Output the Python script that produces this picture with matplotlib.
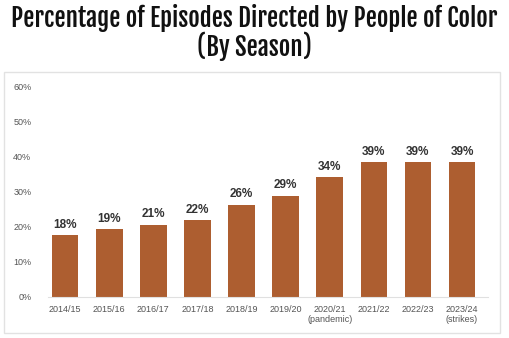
import matplotlib
matplotlib.use("Agg")
import matplotlib.pyplot as plt
from matplotlib.patches import Rectangle

seasons = ["2014/15", "2015/16", "2016/17", "2017/18", "2018/19",
           "2019/20", "2020/21\n(pandemic)", "2021/22", "2022/23", "2023/24\n(strikes)"]
values = [17.6, 19.2, 20.6, 21.9, 26.3, 28.9, 34.3, 38.6, 38.6, 38.6]
labels = ["18%", "19%", "21%", "22%", "26%", "29%", "34%", "39%", "39%", "39%"]
yticks = [0, 10, 20, 30, 40, 50, 60]

title_font = ["Fjalla One", "Barlow Condensed", "DejaVu Sans"]
body_font = ["Liberation Sans", "DejaVu Sans"]

fig = plt.figure(figsize=(5.09, 3.38), dpi=100)
fig.patch.set_facecolor("white")

# light frame around the chart area
fig.patches.append(Rectangle((4 / 509, 1 - 333 / 338), 496 / 509, 261 / 338,
                             transform=fig.transFigure, fill=False,
                             edgecolor="#e2e2e2", linewidth=1))

fig.text(0.5, 1 - 18 / 338, "Percentage of Episodes Directed by People of Color",
         ha="center", va="center", fontsize=18, fontweight="bold",
         family=title_font, color="#111111")
fig.text(0.5, 1 - 46 / 338, "(By Season)",
         ha="center", va="center", fontsize=18, fontweight="bold",
         family=title_font, color="#111111")

ax = fig.add_axes([48 / 509, 1 - 296.5 / 338, 440 / 509, 209.5 / 338])
x = range(len(seasons))
ax.bar(x, values, width=0.6, color="#ad5e30")
for xi, v, lab in zip(x, values, labels):
    ax.text(xi, v + 1.2, lab, ha="center", va="bottom", fontsize=8.5,
            fontweight="bold", color="#333333", family=body_font)

ax.set_ylim(0, 60)
ax.set_xlim(-0.39, 9.59)
ax.set_yticks(yticks)
ax.set_yticklabels([f"{t}%" for t in yticks], family=body_font)
ax.set_xticks(list(x))
ax.set_xticklabels(seasons, family=body_font)
ax.tick_params(axis="both", length=0, labelsize=6.5, labelcolor="#555555")
ax.tick_params(axis="y", pad=12)
ax.tick_params(axis="x", pad=6)
for s in ["top", "right", "left"]:
    ax.spines[s].set_visible(False)
ax.spines["bottom"].set_color("#e0e0e0")
ax.spines["bottom"].set_linewidth(0.8)

fig.savefig("out.png", dpi=100)
